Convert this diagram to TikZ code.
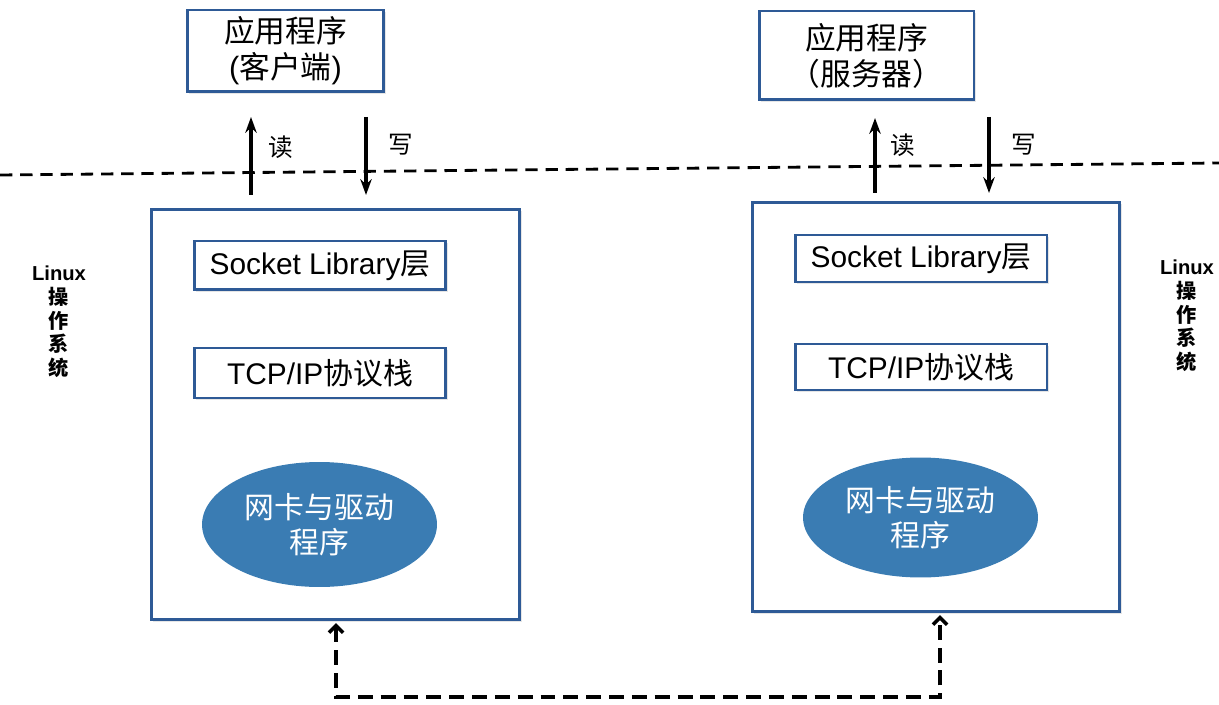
\documentclass[tikz,border=0pt]{standalone}
\usepackage{fontspec}
\setmainfont{Liberation Sans}
\newfontfamily\cjk{Noto Sans CJK SC}
\usetikzlibrary{arrows.meta,shapes.geometric,shadows}
\definecolor{boxblue}{HTML}{2E5A96}
\definecolor{nicblue}{HTML}{3A7CB3}
\tikzset{
  layerbox/.style={draw=boxblue, line width=1.7pt, fill=white, inner sep=0pt,
    drop shadow={shadow xshift=1pt, shadow yshift=-1pt, opacity=0.2}},
  appbox/.style={layerbox, align=center, font=\cjk\fontsize{17.5}{20.5}\selectfont},
  stackbox/.style={layerbox, minimum width=5.04cm, font=\fontsize{17}{19}\selectfont},
  nic/.style={ellipse, fill=nicblue, inner sep=0pt, minimum width=4.7cm,
    text=white, align=center, font=\cjk\fontsize{17}{20}\selectfont},
  oslabel/.style={align=center, font=\bfseries\fontsize{11.5}{13.5}\selectfont},
  rw/.style={-{Stealth[length=9pt,width=6.5pt]}, line width=1.8pt},
  rwlabel/.style={font=\cjk\fontsize{14}{16}\selectfont},
  sepline/.style={line width=1.6pt, dash pattern=on 7pt off 4.5pt},
  netlink/.style={line width=2pt, dash pattern=on 8.5pt off 4.5pt,
    {Straight Barb[length=4pt,width=8pt]}-{Straight Barb[length=4pt,width=8pt]}}
}

\begin{document}
\begin{tikzpicture}[x=0.02cm,y=-0.02cm]
  \useasboundingbox (0,0) rectangle (1219,705);

  % client side
  \node [appbox, minimum width=3.94cm, minimum height=1.64cm] (appL) at (285.5,51)
    {应用程序\\{\normalfont(}客户端{\normalfont)}};
  \node [layerbox, minimum width=7.38cm, minimum height=8.22cm] (osL) at (335.5,414.5) {};
  \node [stackbox, minimum height=0.98cm] (sockL) at (320,265.5) {Socket Library{\cjk 层}};
  \node [stackbox, minimum height=1.0cm] (tcpL) at (320,373) {TCP/IP{\cjk 协议栈}};
  \node [nic, minimum height=2.5cm] (nicL) at (319.5,524.5) {网卡与驱动\\程序};

  % server side
  \node [appbox, minimum width=4.3cm, minimum height=1.78cm] (appR) at (866.5,55.5)
    {应用程序\\（服务器）};
  \node [layerbox, minimum width=7.36cm, minimum height=8.2cm] (osR) at (936,407) {};
  \node [stackbox, minimum height=0.94cm] (sockR) at (921,258.5) {Socket Library{\cjk 层}};
  \node [stackbox, minimum height=0.92cm] (tcpR) at (921,367) {TCP/IP{\cjk 协议栈}};
  \node [nic, minimum height=2.4cm] (nicR) at (920.5,517.5) {网卡与驱动\\程序};

  % user / kernel boundary
  \coordinate (sepW) at (0,175);
  \coordinate (sepE) at (1219,163);
  \draw [sepline] (sepW) -- (sepE);

  % read / write
  \coordinate (rdL1) at (251,195);  \coordinate (rdL2) at (251,117);
  \coordinate (wrL1) at (366,117);  \coordinate (wrL2) at (366,195);
  \coordinate (rdR1) at (875,193);  \coordinate (rdR2) at (875,118);
  \coordinate (wrR1) at (989,117);  \coordinate (wrR2) at (989,193);
  \draw [rw] (rdL1) -- (rdL2);
  \draw [rw] (wrL1) -- (wrL2);
  \draw [rw] (rdR1) -- (rdR2);
  \draw [rw] (wrR1) -- (wrR2);
  \node [rwlabel] (rdtL) at (281,147) {读};
  \node [rwlabel] (wrtL) at (401,145) {写};
  \node [rwlabel] (rdtR) at (903,145) {读};
  \node [rwlabel] (wrtR) at (1024,145) {写};

  \node [oslabel] (osnameL) at (59,322) {Linux\\{\cjk 操}\\{\cjk 作}\\{\cjk 系}\\{\cjk 统}};
  \node [oslabel] (osnameR) at (1187,316) {Linux\\{\cjk 操}\\{\cjk 作}\\{\cjk 系}\\{\cjk 统}};

  % network
  \coordinate (netL) at (336,697);
  \coordinate (netR) at (940,697);
  \draw [netlink] ([yshift=-1pt]netL |- osL.south) -- (netL) -- (netR)
    -- ([yshift=-1pt]netR |- osR.south);
\end{tikzpicture}
\end{document}
